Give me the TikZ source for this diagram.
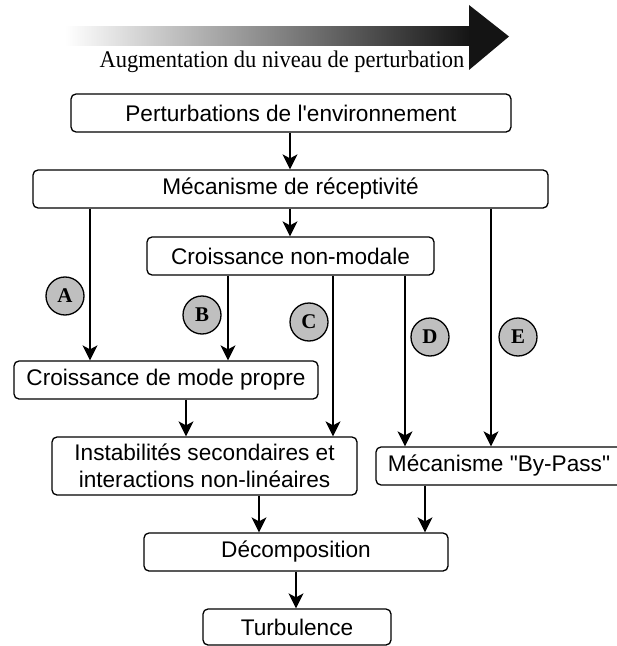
\documentclass[tikz,border=0pt]{standalone}
\usepackage{fontspec}
\newfontfamily\boxfont{Liberation Sans}
\newfontfamily\seriffont{Liberation Serif}
\usetikzlibrary{arrows.meta}
\definecolor{circgray}{HTML}{BFBFBF}
\begin{document}
\begin{tikzpicture}[x=1bp,y=-1bp,
  box/.style={draw, line width=1.3bp, rounded corners=5bp, inner sep=0pt, minimum height=38bp,
    font=\boxfont\fontsize{22.7}{27}\selectfont, align=center},
  arr/.style={line width=1.3bp, -{Stealth[length=15bp,width=15bp,inset=4bp]}},
  lab/.style={circle, draw, line width=1.3bp, fill=circgray, minimum size=38bp, inner sep=0pt,
    font=\seriffont\bfseries\fontsize{21}{21}\selectfont}]
\useasboundingbox (0,0) rectangle (617,646);
% gradient arrow
\shade[left color=white, right color=black!92] (65,27) rectangle (470,46);
\fill[black!92] (469,5) -- (509,36.5) -- (469,70) -- cycle;
\node[anchor=base, inner sep=0pt, font=\seriffont\fontsize{24}{28}\selectfont] (aug) at (282,67.5) {\scalebox{0.94}[1]{Augmentation du niveau de perturbation}};
% boxes
\node[box, minimum width=440bp] (pert) at (291,113) {Perturbations de l'environnement};
\node[box, minimum width=515bp] (mec) at (290.5,189) {Mécanisme de réceptivité};
\node[box, minimum width=287bp] (nonmod) at (290.5,256) {Croissance non-modale};
\node[box, minimum width=304bp] (mode) at (166,380) {Croissance de mode propre};
\node[box, minimum width=305bp, minimum height=58bp] (inst) at (204.5,466) {Instabilités secondaires et\\interactions non-linéaires};
\node[box, minimum width=246bp] (bypass) at (499,466) {Mécanisme "By-Pass"};
\node[box, minimum width=304bp] (decomp) at (296,552) {Décomposition};
\node[box, minimum width=188bp, minimum height=36bp] (turb) at (297,627) {Turbulence};
% columns
\coordinate (x0) at (290,0);
\coordinate (xa) at (90,0);
\coordinate (xb) at (228,0);
\coordinate (xc) at (333,0);
\coordinate (xd) at (405,0);
\coordinate (xe) at (491,0);
\coordinate (xm) at (186,0);
\coordinate (xi) at (259,0);
\coordinate (xp) at (425,0);
\coordinate (xt) at (296,0);
% connectors
\draw[arr] (pert.south -| x0) -- (mec.north -| x0);
\draw[arr] (mec.south -| x0) -- (nonmod.north -| x0);
\draw[arr] (mec.south -| xa) -- (mode.north -| xa);
\draw[arr] (nonmod.south -| xb) -- (mode.north -| xb);
\draw[arr] (nonmod.south -| xc) -- (inst.north -| xc);
\draw[arr] (nonmod.south -| xd) -- (bypass.north -| xd);
\draw[arr] (mec.south -| xe) -- (bypass.north -| xe);
\draw[arr] (mode.south -| xm) -- (inst.north -| xm);
\draw[arr] (inst.south -| xi) -- (decomp.north -| xi);
\draw[arr] (bypass.south -| xp) -- (decomp.north -| xp);
\draw[arr] (decomp.south -| xt) -- (turb.north -| xt);
% labels
\node[lab] (la) at (65,296) {A};
\node[lab] (lb) at (202,315) {B};
\node[lab] (lc) at (309,322) {C};
\node[lab] (ld) at (430,337) {D};
\node[lab] (le) at (518,337) {E};
\end{tikzpicture}
\end{document}
